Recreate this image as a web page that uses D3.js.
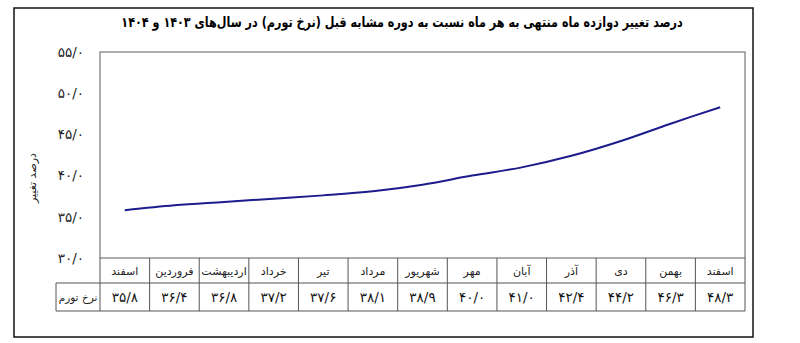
<!DOCTYPE html>
<html>
<head>
<meta charset="utf-8">
<script src="https://cdn.jsdelivr.net/npm/d3@7"></script>
<style>
  body { margin: 0; background: #fff; }
  text { font-family: "DejaVu Sans", sans-serif; }
</style>
</head>
<body>
<div id="chart"></div>
<script>
// data
const months = ['اسفند', 'فروردین', 'اردیبهشت', 'خرداد', 'تیر', 'مرداد', 'شهریور',
                'مهر', 'آبان', 'آذر', 'دی', 'بهمن', 'اسفند'];
const inflation = [35.8, 36.4, 36.8, 37.2, 37.6, 38.1, 38.9, 40.0, 41.0, 42.4, 44.2, 46.3, 48.3];
const yTicks = [30, 35, 40, 45, 50, 55];
const title = 'درصد تغییر دوازده ماه منتهی به هر ماه نسبت به دوره مشابه قبل (نرخ تورم) در سال‌های ۱۴۰۳ و ۱۴۰۴';
const yLabel = 'درصد تغییر';
const rowLabel = 'نرخ تورم';

const W = 800, H = 343;
let plot = {left: 100, right: 745, top: 52, bottom: 258};
let rowH = [25, 28];

// persian digits, "/" as decimal sign
function fa(v) {
    return v.toFixed(1).replace('.', '/').replace(/[0-9]/g, d => '۰۱۲۳۴۵۶۷۸۹'[d]);
}

const svg = d3.select('#chart').append('svg')
    .attr('width', W)
    .attr('height', H);

// outer frame
svg.append('rect')
    .attr('x', 14).attr('y', 8)
    .attr('width', 739).attr('height', 329)
    .attr('fill', 'none')
    .attr('stroke', '#111')
    .attr('stroke-width', 1.5);

// title, squeezed horizontally like the narrow original font
svg.append('text')
    .attr('transform', 'translate(402,27) scale(0.8,1)')
    .attr('text-anchor', 'middle')
    .attr('direction', 'rtl')
    .style('font-size', '14px')
    .style('font-weight', 'bold')
    .text(title);

let x = d3.scaleBand()
    .domain(d3.range(months.length))
    .range([plot.left, plot.right]);

let y = d3.scaleLinear()
    .domain([30, 55])
    .range([plot.bottom, plot.top]);

// plot area border
svg.append('rect')
    .attr('x', plot.left).attr('y', plot.top)
    .attr('width', plot.right - plot.left)
    .attr('height', plot.bottom - plot.top)
    .attr('fill', 'none')
    .attr('stroke', '#777')
    .attr('stroke-width', 1.2);

// y axis labels
let yAxis = svg.append('g')
    .attr('transform', 'translate(' + 84 + ',0)')
    .call(d3.axisLeft(y).tickValues(yTicks).tickSize(0).tickFormat(fa));
yAxis.select('.domain').remove();
yAxis.selectAll('text')
    .style('font-family', '"DejaVu Sans", sans-serif')
    .style('font-size', '13.5px')
    .attr('fill', '#222')
    .attr('direction', 'ltr')
    .attr('text-anchor', 'end')
    .attr('x', 0);

svg.append('text')
    .attr('transform', 'translate(36,' + 178 + ') rotate(-90)')
    .attr('text-anchor', 'middle')
    .attr('direction', 'rtl')
    .style('font-size', '11px')
    .attr('fill', '#222')
    .text(yLabel);

// line
let line = d3.line()
    .x((d, i) => x(i) + x.bandwidth() / 2)
    .y(d => y(d))
    .curve(d3.curveCatmullRom.alpha(0.5));

svg.append('path')
    .datum(inflation)
    .attr('d', line)
    .attr('fill', 'none')
    .attr('stroke', '#1c1c8c')
    .attr('stroke-width', 2);

// table under chart
let t0 = plot.bottom, t1 = t0 + rowH[0], t2 = t1 + rowH[1];
let tbl = svg.append('g').attr('stroke', '#555').attr('stroke-width', 1);

tbl.append('line').attr('x1', plot.left).attr('x2', plot.right).attr('y1', t1).attr('y2', t1);
tbl.append('line').attr('x1', 56).attr('x2', plot.right).attr('y1', t2).attr('y2', t2);
tbl.append('line').attr('x1', 56).attr('x2', plot.left).attr('y1', t1).attr('y2', t1);
tbl.append('line').attr('x1', 56).attr('x2', 56).attr('y1', t1).attr('y2', t2);
tbl.selectAll('.col')
    .data(d3.range(months.length + 1))
    .enter().append('line')
    .attr('x1', i => plot.left + i * x.bandwidth())
    .attr('x2', i => plot.left + i * x.bandwidth())
    .attr('y1', t0)
    .attr('y2', t2);

svg.selectAll('.month')
    .data(months).enter()
    .append('text')
    .attr('x', (d, i) => x(i) + x.bandwidth() / 2)
    .attr('y', t0 + rowH[0] / 2 + 4)
    .attr('text-anchor', 'middle')
    .attr('direction', 'rtl')
    .style('font-size', '11px')
    .attr('fill', '#222')
    .text(d => d);

svg.selectAll('.val')
    .data(inflation).enter()
    .append('text')
    .attr('x', (d, i) => x(i) + x.bandwidth() / 2)
    .attr('y', t1 + rowH[1] / 2 + 5)
    .attr('text-anchor', 'middle')
    .attr('direction', 'ltr')
    .style('font-size', '13.5px')
    .attr('fill', '#111')
    .text(d => fa(d));

svg.append('text')
    .attr('x', 78).attr('y', t1 + rowH[1] / 2 + 4)
    .attr('text-anchor', 'middle')
    .attr('direction', 'rtl')
    .style('font-size', '10.5px')
    .attr('fill', '#222')
    .text(rowLabel);
</script>
</body>
</html>
